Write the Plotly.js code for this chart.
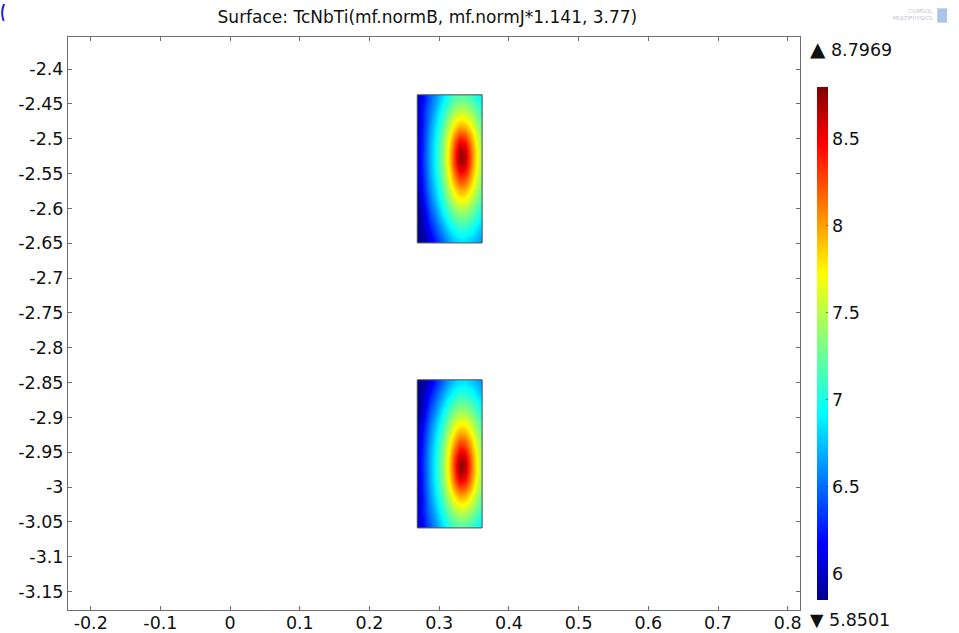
<!DOCTYPE html>
<html>
<head>
<meta charset="utf-8">
<script src="https://cdn.plot.ly/plotly-3.0.1.min.js"></script>
<style>html,body{margin:0;padding:0;background:#fff;}#chart{width:959px;height:633px;}</style>
</head>
<body>
<div id="chart"></div>
<script>
// ---- data ----
const titleText = "Surface: TcNbTi(mf.normB, mf.normJ*1.141, 3.77)";
const colorMin = 5.8501;
const colorMax = 8.7969;

// cell edges (r coordinate) shared by both coil blocks
const xEdges = [0.2685, 0.27565, 0.28281, 0.28996, 0.29712, 0.30427, 0.31142, 0.31858, 0.32573, 0.33288, 0.34004, 0.34719, 0.35435, 0.3615];
// upper block z edges (bottom -> top)
const yEdgesUpper = [-2.6495, -2.638875, -2.62825, -2.617625, -2.607, -2.596375, -2.58575, -2.575125, -2.5645, -2.553875, -2.54325,
                     -2.532625, -2.522, -2.511375, -2.50075, -2.490125, -2.4795, -2.468875, -2.45825, -2.447625, -2.437];
// lower block z edges (bottom -> top)
const yEdgesLower = [-3.0585, -3.047875, -3.03725, -3.026625, -3.016, -3.005375, -2.99475, -2.984125, -2.9735, -2.962875, -2.95225,
                     -2.941625, -2.931, -2.920375, -2.90975, -2.899125, -2.8885, -2.877875, -2.86725, -2.856625, -2.846];

// upper block values, rows bottom -> top
const zUpper = [
  [5.86, 5.92, 6.10, 6.25, 6.41, 6.56, 6.69, 6.80, 6.86, 6.86, 6.82, 6.74, 6.65],
  [5.86, 6.00, 6.19, 6.35, 6.51, 6.67, 6.82, 6.93, 7.00, 7.00, 6.94, 6.86, 6.75],
  [5.86, 6.07, 6.27, 6.44, 6.61, 6.79, 6.95, 7.07, 7.14, 7.14, 7.08, 6.97, 6.85],
  [5.87, 6.11, 6.35, 6.52, 6.71, 6.90, 7.08, 7.22, 7.30, 7.29, 7.22, 7.10, 6.95],
  [5.91, 6.18, 6.42, 6.60, 6.80, 7.01, 7.21, 7.37, 7.47, 7.45, 7.36, 7.22, 7.05],
  [5.96, 6.24, 6.48, 6.68, 6.89, 7.11, 7.34, 7.53, 7.65, 7.63, 7.51, 7.34, 7.15],
  [6.01, 6.29, 6.54, 6.74, 6.97, 7.21, 7.47, 7.70, 7.84, 7.82, 7.67, 7.47, 7.25],
  [6.05, 6.33, 6.59, 6.80, 7.03, 7.30, 7.59, 7.87, 8.05, 8.02, 7.83, 7.58, 7.33],
  [6.09, 6.37, 6.63, 6.84, 7.09, 7.38, 7.71, 8.04, 8.27, 8.22, 7.99, 7.69, 7.41],
  [6.11, 6.39, 6.66, 6.88, 7.14, 7.44, 7.80, 8.19, 8.48, 8.42, 8.12, 7.78, 7.47],
  [6.13, 6.41, 6.68, 6.90, 7.17, 7.48, 7.87, 8.31, 8.66, 8.59, 8.23, 7.84, 7.51],
  [6.13, 6.42, 6.68, 6.91, 7.18, 7.50, 7.90, 8.37, 8.76, 8.67, 8.28, 7.87, 7.52],
  [6.13, 6.41, 6.68, 6.91, 7.17, 7.49, 7.88, 8.34, 8.71, 8.63, 8.25, 7.86, 7.52],
  [6.12, 6.40, 6.67, 6.89, 7.15, 7.46, 7.82, 8.23, 8.53, 8.46, 8.15, 7.80, 7.48],
  [6.11, 6.39, 6.65, 6.86, 7.11, 7.40, 7.72, 8.06, 8.28, 8.23, 8.00, 7.70, 7.42],
  [6.09, 6.37, 6.62, 6.82, 7.06, 7.32, 7.60, 7.87, 8.03, 8.00, 7.82, 7.58, 7.33],
  [6.07, 6.34, 6.58, 6.78, 6.99, 7.22, 7.46, 7.68, 7.80, 7.78, 7.64, 7.45, 7.24],
  [6.13, 6.35, 6.54, 6.72, 6.92, 7.12, 7.33, 7.50, 7.59, 7.57, 7.47, 7.32, 7.14],
  [6.10, 6.31, 6.50, 6.66, 6.84, 7.02, 7.19, 7.33, 7.40, 7.39, 7.31, 7.18, 7.03],
  [6.06, 6.27, 6.45, 6.60, 6.76, 6.92, 7.06, 7.18, 7.23, 7.22, 7.16, 7.06, 6.93]
];
// lower block values, rows bottom -> top
const zLower = [
  [6.06, 6.27, 6.45, 6.60, 6.76, 6.92, 7.06, 7.18, 7.23, 7.22, 7.16, 7.06, 6.93],
  [6.10, 6.31, 6.50, 6.66, 6.84, 7.02, 7.19, 7.33, 7.40, 7.39, 7.31, 7.18, 7.03],
  [6.13, 6.35, 6.54, 6.72, 6.92, 7.12, 7.33, 7.50, 7.59, 7.57, 7.47, 7.32, 7.14],
  [6.07, 6.34, 6.58, 6.78, 6.99, 7.22, 7.46, 7.68, 7.80, 7.78, 7.64, 7.45, 7.24],
  [6.09, 6.37, 6.62, 6.82, 7.06, 7.32, 7.60, 7.87, 8.03, 8.00, 7.82, 7.58, 7.33],
  [6.11, 6.39, 6.65, 6.86, 7.11, 7.40, 7.72, 8.06, 8.28, 8.23, 8.00, 7.70, 7.42],
  [6.12, 6.40, 6.67, 6.89, 7.15, 7.46, 7.82, 8.23, 8.53, 8.46, 8.15, 7.80, 7.48],
  [6.13, 6.41, 6.68, 6.91, 7.17, 7.49, 7.88, 8.34, 8.71, 8.63, 8.25, 7.86, 7.52],
  [6.13, 6.42, 6.68, 6.91, 7.18, 7.50, 7.90, 8.37, 8.77, 8.67, 8.28, 7.87, 7.52],
  [6.13, 6.41, 6.68, 6.90, 7.17, 7.48, 7.87, 8.31, 8.66, 8.59, 8.23, 7.84, 7.51],
  [6.11, 6.39, 6.66, 6.88, 7.14, 7.44, 7.80, 8.19, 8.48, 8.42, 8.12, 7.78, 7.47],
  [6.09, 6.37, 6.63, 6.84, 7.09, 7.38, 7.71, 8.04, 8.27, 8.22, 7.99, 7.69, 7.41],
  [6.05, 6.33, 6.59, 6.80, 7.03, 7.30, 7.59, 7.87, 8.05, 8.02, 7.83, 7.58, 7.33],
  [6.01, 6.29, 6.54, 6.74, 6.97, 7.21, 7.47, 7.70, 7.84, 7.82, 7.67, 7.47, 7.25],
  [5.96, 6.24, 6.48, 6.68, 6.89, 7.11, 7.34, 7.53, 7.65, 7.63, 7.51, 7.34, 7.15],
  [5.91, 6.18, 6.42, 6.60, 6.80, 7.01, 7.21, 7.37, 7.47, 7.45, 7.36, 7.22, 7.05],
  [5.87, 6.11, 6.35, 6.52, 6.71, 6.90, 7.08, 7.22, 7.30, 7.29, 7.22, 7.10, 6.95],
  [5.86, 6.07, 6.27, 6.44, 6.61, 6.79, 6.95, 7.07, 7.14, 7.14, 7.08, 6.97, 6.85],
  [5.86, 6.00, 6.19, 6.35, 6.51, 6.67, 6.82, 6.93, 7.00, 7.00, 6.94, 6.86, 6.75],
  [5.86, 5.92, 6.10, 6.25, 6.41, 6.56, 6.69, 6.80, 6.86, 6.86, 6.82, 6.74, 6.65]
];

const xTickVals = [-0.2, -0.1, 0, 0.1, 0.2, 0.3, 0.4, 0.5, 0.6, 0.7, 0.8];
const xTickText = ["-0.2", "-0.1", "0", "0.1", "0.2", "0.3", "0.4", "0.5", "0.6", "0.7", "0.8"];
const yTickVals = [-2.4, -2.45, -2.5, -2.55, -2.6, -2.65, -2.7, -2.75, -2.8, -2.85, -2.9, -2.95, -3.0, -3.05, -3.1, -3.15];
const yTickText = ["-2.4", "-2.45", "-2.5", "-2.55", "-2.6", "-2.65", "-2.7", "-2.75", "-2.8", "-2.85", "-2.9", "-2.95", "-3", "-3.05", "-3.1", "-3.15"];
const cbTickVals = [6, 6.5, 7, 7.5, 8, 8.5];
const cbTickText = ["6", "6.5", "7", "7.5", "8", "8.5"];

// ---- styling ----
const FONT = "DejaVu Sans, Verdana, sans-serif";
const jet = [
  [0, "rgb(0,0,143)"],
  [0.111, "rgb(0,0,255)"],
  [0.365, "rgb(0,255,255)"],
  [0.5, "rgb(128,255,128)"],
  [0.635, "rgb(255,255,0)"],
  [0.889, "rgb(255,0,0)"],
  [1, "rgb(128,0,0)"]
];

function outline(xe, ye) {
  const x0 = xe[0], x1 = xe[xe.length - 1], y0 = ye[0], y1 = ye[ye.length - 1];
  return {
    type: "scatter", mode: "lines",
    x: [x0, x1, x1, x0, x0], y: [y0, y0, y1, y1, y0],
    line: {color: "#4a4a4a", width: 1},
    hoverinfo: "skip", showlegend: false
  };
}

const traces = [
  {type: "heatmap", x: xEdges, y: yEdgesUpper, z: zUpper, coloraxis: "coloraxis", zsmooth: "best", hoverinfo: "z"},
  {type: "heatmap", x: xEdges, y: yEdgesLower, z: zLower, coloraxis: "coloraxis", zsmooth: "best", hoverinfo: "z"},
  outline(xEdges, yEdgesUpper),
  outline(xEdges, yEdgesLower)
];

const axisCommon = {
  showgrid: false, zeroline: false,
  showline: true, linecolor: "#6e6e6e", linewidth: 1, mirror: "ticks",
  ticks: "inside", ticklen: 4, tickwidth: 1, tickcolor: "#6e6e6e",
  tickmode: "array",
  tickfont: {family: FONT, size: 17.5, color: "#111"}
};

const layout = {
  width: 959, height: 633, autosize: false,
  margin: {l: 68, r: 159, t: 37, b: 23, pad: 0},
  paper_bgcolor: "#ffffff", plot_bgcolor: "#ffffff",
  showlegend: false,
  font: {family: FONT, color: "#111"},
  title: {
    text: titleText,
    font: {family: FONT, size: 17, color: "#111"},
    xref: "paper", x: 0.491, xanchor: "center",
    yref: "container", y: 0.973, yanchor: "middle"
  },
  xaxis: Object.assign({}, axisCommon, {
    range: [-0.2326, 0.8176], tickvals: xTickVals, ticktext: xTickText,
    ticklabelstandoff: -3
  }),
  yaxis: Object.assign({}, axisCommon, {
    range: [-3.1763, -2.354], tickvals: yTickVals, ticktext: yTickText
  }),
  coloraxis: {
    cmin: colorMin, cmax: colorMax, colorscale: jet,
    colorbar: {
      thickness: 11, thicknessmode: "pixels",
      len: 0.8948, lenmode: "fraction",
      x: 1.0232, xanchor: "left", xpad: 0,
      y: 0.465, yanchor: "middle", ypad: 0,
      outlinewidth: 0,
      tickmode: "array", tickvals: cbTickVals, ticktext: cbTickText,
      ticks: "inside", ticklen: 2, tickcolor: "rgba(0,0,0,0.45)",
      tickfont: {family: FONT, size: 17.5, color: "#111"}
    }
  },
  annotations: [
    {xref: "paper", yref: "paper", x: 1.0105, y: 0.9796, xanchor: "left", yanchor: "middle",
     text: "<span style='font-size:20px'>\u25B2</span> " + colorMax.toFixed(4), showarrow: false,
     font: {family: FONT, size: 17.5, color: "#111"}},
    {xref: "paper", yref: "paper", x: 1.0105, y: -0.0175, xanchor: "left", yanchor: "middle",
     text: "\u25BC " + colorMin.toFixed(4), showarrow: false,
     font: {family: FONT, size: 17.5, color: "#111"}},
    {xref: "paper", yref: "paper", x: 1.185, y: 1.04, xanchor: "right", yanchor: "middle", align: "right",
     text: "COMSOL<br>MULTIPHYSICS", showarrow: false,
     font: {family: FONT, size: 5.5, color: "#b9bfcc"}}
  ],
  shapes: [
    {type: "rect", xref: "paper", yref: "paper", x0: 1.1875, x1: 1.201, y0: 1.025, y1: 1.05,
     fillcolor: "#a9c6e8", line: {width: 0}},
    {type: "path", xref: "paper", yref: "paper",
     path: "M -0.0872,1.0575 Q -0.0925,1.044 -0.0878,1.028",
     line: {color: "#2020e0", width: 2}}
  ]
};

Plotly.newPlot("chart", traces, layout, {displayModeBar: false, staticPlot: true});
</script>
</body>
</html>
